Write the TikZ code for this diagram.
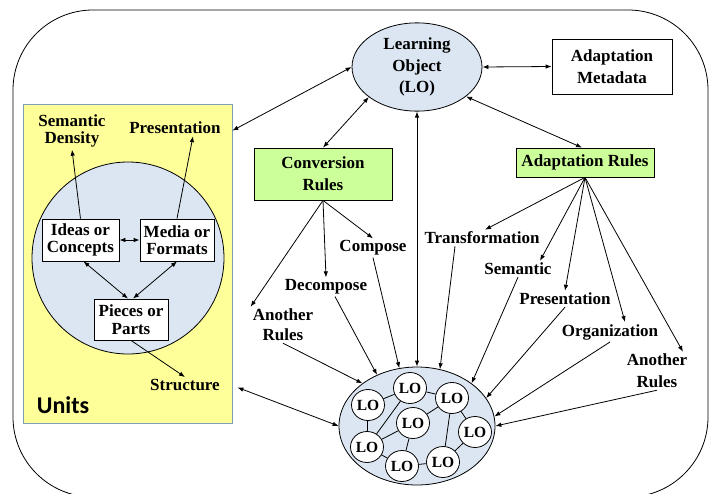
\documentclass[tikz,border=0pt]{standalone}
\usepackage{fontspec}
\setmainfont{Liberation Serif}
\newfontfamily\unitsfont{Carlito}
\usetikzlibrary{arrows.meta,shapes.geometric}
\definecolor{lblue}{RGB}{220,230,242}
\definecolor{lyellow}{RGB}{255,255,153}
\definecolor{lgreen}{RGB}{204,255,153}
\definecolor{ybord}{RGB}{127,157,185}
\begin{document}
\begin{tikzpicture}[x=1pt,y=-1pt,
  txt/.style={font=\fontsize{17}{20}\selectfont\bfseries, align=center, inner sep=2pt},
  boxn/.style={draw, line width=0.8pt, fill=white, txt},
  rulebox/.style={boxn, fill=lgreen},
  lon/.style={ellipse, draw, fill=white, line width=0.8pt, minimum width=33pt, minimum height=31pt, inner sep=0pt, font=\fontsize{15.5}{16}\selectfont\bfseries},
  arr/.style={line width=0.8pt, -{Latex[length=6pt,width=4.5pt]}},
  darr/.style={line width=0.8pt, {Latex[length=6pt,width=4.5pt]}-{Latex[length=6pt,width=4.5pt]}},
  ln/.style={line width=0.8pt}]
\useasboundingbox (0,0) rectangle (711,493);
% outer frame
\draw[line width=0.8pt, rounded corners=80pt] (13,10) rectangle (708,497);

% Units box
\node[draw=ybord, fill=lyellow, line width=0.8pt, minimum width=209pt, minimum height=319pt, inner sep=0pt] (units) at (127.5,263.5) {};
\node[circle, draw, fill=lblue, line width=0.8pt, minimum size=192pt, inner sep=0pt] (ucirc) at (128,258) {};
\node[boxn, font=\fontsize{17}{17.5}\selectfont\bfseries, minimum width=77pt, minimum height=42pt, inner sep=1pt] (ideas) at (80.5,240) {Ideas or\\Concepts};
\node[boxn, font=\fontsize{17}{17.5}\selectfont\bfseries, minimum width=74pt, minimum height=42pt, inner sep=1pt] (media) at (177,240) {Media or\\Formats};
\node[boxn, font=\fontsize{17}{18}\selectfont\bfseries, minimum width=74pt, minimum height=41pt, inner sep=1pt] (pieces) at (131,319.5) {Pieces or\\Parts};
\node[txt, font=\fontsize{17}{17.5}\selectfont\bfseries] (semd) at (72,131) {Semantic\\Density};
\node[txt] (presL) at (175,128) {Presentation};
\node[txt] (struct) at (185,385) {Structure};
\node[font=\fontsize{24}{26}\selectfont\unitsfont\bfseries, inner sep=0pt] (unitsl) at (63,405) {Units};

\draw[arr] (ideas.north) -- (semd.south);
\draw[arr] (media.north) -- ([xshift=18pt]presL.south);
\draw[darr] (ideas.east) -- (media.west);
\draw[darr] ([xshift=3pt]ideas.south) -- ([xshift=-3pt]pieces.north);
\draw[darr] (media.south) -- ([xshift=2pt]pieces.north);
\draw[arr] (pieces.south) -- (struct.north);

% Learning object and metadata
\node[ellipse, draw, fill=lblue, line width=0.8pt, minimum width=130pt, minimum height=86pt, inner sep=0pt, txt, font=\fontsize{17}{21.5}\selectfont\bfseries] (lo) at (417,67) {Learning\\Object\\(LO)};
\node[boxn, font=\fontsize{17}{21.5}\selectfont\bfseries, minimum width=120pt, minimum height=55pt] (meta) at (612,66.5) {Adaptation\\Metadata};
\node[rulebox, font=\fontsize{17}{22}\selectfont\bfseries, minimum width=138pt, minimum height=52pt] (conv) at (323,174) {Conversion\\Rules};
\node[rulebox, minimum width=138pt, minimum height=29pt] (adapt) at (585,162.5) {Adaptation Rules};

% cluster
\node[ellipse, draw, fill=lblue, line width=0.8pt, minimum width=156pt, minimum height=118pt, inner sep=0pt] (cluster) at (417,426) {};
\node[lon] (l1) at (410,388) {LO};
\node[lon] (l2) at (452,398) {LO};
\node[lon] (l3) at (368,405) {LO};
\node[lon] (l4) at (413,423) {LO};
\node[lon] (l5) at (475,432) {LO};
\node[lon] (l6) at (367,447) {LO};
\node[lon] (l7) at (443,462) {LO};
\node[lon] (l8) at (402,466) {LO};
\draw[ln] (l1) -- (l3);
\draw[ln] (l1) -- (l6);
\draw[ln] (l1) -- (l2);
\draw[ln] (l3) -- (l6);
\draw[ln] (l6) -- (l4);
\draw[ln] (l4) -- (l2);
\draw[ln] (l4) -- (l8);
\draw[ln] (l6) -- (l8);
\draw[ln] (l8) -- (l7);
\draw[ln] (l2) -- (l7);
\draw[ln] (l2) -- (l5);
\draw[ln] (l5) -- (l7);

% labels
\node[txt] (comp) at (373,248) {Compose};
\node[txt] (decomp) at (326,287) {Decompose};
\node[txt] (anrL) at (283,325) {Another\\Rules};
\node[txt] (trans) at (482,238) {Transformation};
\node[txt] (sem) at (518,269) {Semantic};
\node[txt] (presR) at (565,299) {Presentation};
\node[txt] (org) at (610,332) {Organization};
\node[txt, font=\fontsize{17}{22}\selectfont\bfseries] (anrR) at (657,371) {Another\\Rules};

% main connectors
\draw[darr] ([yshift=-27pt]units.north east) -- (lo.west);
\draw[darr] (conv.north) -- (lo.212);
\draw[darr] (lo.329) -- ([xshift=-3pt]adapt.north);
\draw[darr] (lo.east) -- (meta.west);
\draw[darr] (lo.south) -- (cluster.north);
\draw[darr] ([xshift=5pt,yshift=36pt]units.south east) -- (cluster.west);

% conversion rules
\draw[arr] (conv.south) -- (anrL.north west);
\draw[arr] (conv.south) -- (decomp.north);
\draw[arr] (conv.south) -- (comp.north);
% adaptation rules
\draw[arr] (adapt.south) -- ([xshift=3pt]trans.north);
\draw[arr] (adapt.south) -- ([xshift=22pt]sem.north);
\draw[arr] (adapt.south) -- (presR.north);
\draw[arr] (adapt.south) -- ([xshift=15pt]org.north);
\draw[arr] (adapt.south) -- ([xshift=26pt]anrR.north);

% labels to cluster
\draw[arr] (anrL.south) -- (cluster.142);
\draw[arr] ([xshift=9pt]decomp.south) -- (cluster.128);
\draw[arr] (comp.south) -- (cluster.107);
\draw[arr] ([xshift=-27pt]trans.south) -- (cluster.68);
\draw[arr] (sem.south) -- (cluster.38);
\draw[arr] (presR.south) -- (cluster.22);
\draw[arr] (org.south) -- (cluster.7);
\draw[arr] (anrR.south) -- (cluster.east);
\end{tikzpicture}
\end{document}
